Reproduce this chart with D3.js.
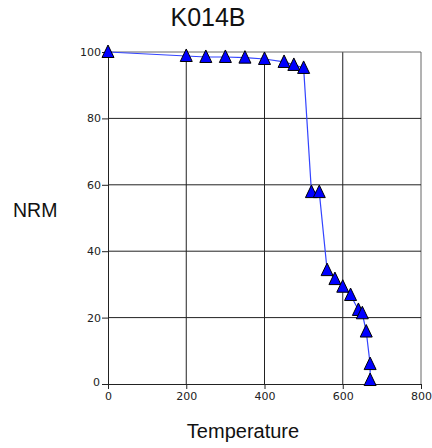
<!DOCTYPE html>
<html>
<head>
<meta charset="utf-8">
<script src="https://cdn.jsdelivr.net/npm/d3@7"></script>
<style>
  body { margin: 0; background: #fff; }
  svg { display: block; font-family: "Liberation Sans", Arial, sans-serif; }
</style>
</head>
<body>
<svg id="chart" width="432" height="448"></svg>
<script>
// Demagnetisation steps
const temperatures = [0, 200, 250, 300, 350, 400, 450, 475, 500, 520, 540, 560, 580, 600, 620, 640, 650, 660, 670, 670];
const nrm = [100, 98.8, 98.5, 98.5, 98.3, 97.9, 97.0, 96.1, 95.2, 57.8, 57.8, 34.3, 31.6, 29.3, 26.8, 22.3, 21.3, 15.8, 6.0, 1.2];
const xTicks = [0, 200, 400, 600, 800];
const yTicks = [0, 20, 40, 60, 80, 100];

const data = temperatures.map((t, i) => ({t, v: nrm[i]}));

const margin = {top: 52, right: 11, bottom: 64, left: 108};
const width = 432 - margin.left - margin.right;
const height = 448 - margin.top - margin.bottom;

const svg = d3.select('#chart');
const g = svg.append('g')
    .attr('transform', `translate(${margin.left},${margin.top})`);

const x = d3.scaleLinear().domain([0, 800]).range([0, width]);
const y = d3.scaleLinear().domain([0, 100]).range([height, 0]);

// Grid
g.append('g')
    .selectAll('line')
    .data(xTicks.slice(1))
    .enter()
    .append('line')
    .attr('x1', d => x(d)).attr('x2', d => x(d))
    .attr('y1', 0).attr('y2', height)
    .attr('stroke', d => d === 800 ? '#666' : '#222')
    .attr('stroke-width', 1);

g.append('g')
    .selectAll('line')
    .data(yTicks.slice(1))
    .enter()
    .append('line')
    .attr('x1', 0).attr('x2', width)
    .attr('y1', d => y(d)).attr('y2', d => y(d))
    .attr('stroke', d => d === 100 ? '#666' : '#222')
    .attr('stroke-width', 1);

// Axes
const xAxis = g.append('g')
    .attr('transform', `translate(0,${height})`)
    .call(d3.axisBottom(x).tickValues(xTicks).tickSize(5).tickPadding(3));

const yAxis = g.append('g')
    .call(d3.axisLeft(y).tickValues(yTicks).tickSize(6).tickPadding(1));

[xAxis, yAxis].forEach(a => {
    a.select('.domain').attr('stroke', '#222');
    a.selectAll('.tick line').attr('stroke', '#222');
    a.selectAll('.tick text')
        .attr('fill', '#222')
        .style('font-size', '11px')
        .style('font-family', '"DejaVu Sans", sans-serif');
});
yAxis.selectAll('.tick').filter(d => d === 0).select('line').remove();
yAxis.selectAll('.tick').filter(d => d === 0).select('text').attr('x', -8).attr('dy', '0.1em');

// Line
g.append('path')
    .datum(data)
    .attr('fill', 'none')
    .attr('stroke', '#3344ff')
    .attr('stroke-width', 1.2)
    .attr('d', d3.line().x(d => x(d.t)).y(d => y(d.v)));

// Triangle markers
const tri = 'M0,-7 L6,5.5 L-6,5.5 Z';
g.selectAll('.pt')
    .data(data)
    .enter()
    .append('path')
    .attr('class', 'pt')
    .attr('transform', d => `translate(${x(d.t)},${y(d.v)})`)
    .attr('d', tri)
    .attr('fill', '#0000ff')
    .attr('stroke', '#000')
    .attr('stroke-width', 1);

// Titles
svg.append('text')
    .attr('x', 208).attr('y', 26)
    .attr('text-anchor', 'middle')
    .style('font-size', '25px')
    .attr('fill', '#111')
    .text('K014B');

svg.append('text')
    .attr('x', 13).attr('y', 217)
    .style('font-size', '19.5px')
    .attr('fill', '#111')
    .text('NRM');

svg.append('text')
    .attr('x', 243).attr('y', 438)
    .attr('text-anchor', 'middle')
    .style('font-size', '20px')
    .attr('fill', '#111')
    .text('Temperature');
</script>
</body>
</html>
